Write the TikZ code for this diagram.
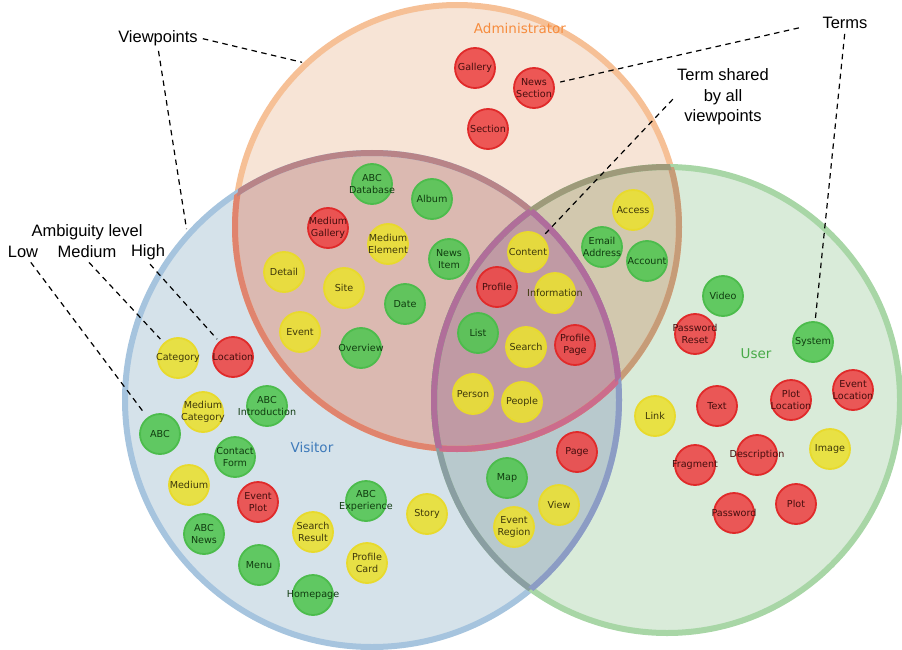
\documentclass[tikz,border=0pt]{standalone}
\usepackage{fontspec}
\setmainfont{Liberation Sans}
\newfontfamily\termfont{DejaVu Sans}
\usepackage{xcolor}
\usepackage{tikz}
% viewpoint regions
\definecolor{adminfill}{RGB}{247,228,214}
\definecolor{visitfill}{RGB}{213,226,234}
\definecolor{userfill}{RGB}{217,235,217}
\definecolor{avfill}{RGB}{219,185,177}
\definecolor{aufill}{RGB}{210,200,174}
\definecolor{vufill}{RGB}{184,201,205}
\definecolor{avufill}{RGB}{192,154,164}
% viewpoint edges
\definecolor{adminedge}{RGB}{246,192,150}
\definecolor{visitedge}{RGB}{166,196,222}
\definecolor{useredge}{RGB}{168,214,166}
\definecolor{adminInV}{RGB}{224,132,110}
\definecolor{adminInU}{RGB}{198,156,120}
\definecolor{adminInVU}{RGB}{204,108,140}
\definecolor{visitInA}{RGB}{184,132,136}
\definecolor{visitInU}{RGB}{140,156,196}
\definecolor{visitInAU}{RGB}{176,108,156}
\definecolor{userInA}{RGB}{158,154,122}
\definecolor{userInV}{RGB}{138,158,162}
\definecolor{userInAV}{RGB}{176,110,154}
% ambiguity levels
\definecolor{hifill}{RGB}{236,72,72}
\definecolor{hiline}{RGB}{224,42,42}
\definecolor{hitxt}{RGB}{70,14,14}
\definecolor{midfill}{RGB}{234,224,52}
\definecolor{midline}{RGB}{232,218,44}
\definecolor{midtxt}{RGB}{62,56,10}
\definecolor{lowfill}{RGB}{84,198,84}
\definecolor{lowline}{RGB}{76,188,76}
\definecolor{lowtxt}{RGB}{16,60,16}
\definecolor{admintxt}{RGB}{246,140,62}
\definecolor{visittxt}{RGB}{62,122,186}
\definecolor{usertxt}{RGB}{72,170,72}

\newcommand\admincirc{(457,227) circle (222pt)}
\newcommand\visitcirc{(372,400) circle (247pt)}
\newcommand\usercirc{(667,400) circle (233pt)}

\tikzset{
  term/.style={circle,minimum size=40pt,inner sep=0pt,line width=1.8pt,fill opacity=.9},
  hiamb/.style={term,draw=hiline,fill=hifill},
  midamb/.style={term,draw=midline,fill=midfill},
  lowamb/.style={term,draw=lowline,fill=lowfill},
  termtext/.style={font=\termfont\fontsize{9.6}{11.7}\selectfont,align=center,inner sep=0pt,text opacity=1},
  hitext/.style={termtext,text=hitxt},
  midtext/.style={termtext,text=midtxt},
  lowtext/.style={termtext,text=lowtxt},
  vpname/.style={font=\termfont\fontsize{13.5}{16}\selectfont},
  edge/.style={line width=6pt},
  note/.style={font=\fontsize{16.5}{20.5}\selectfont,align=center,inner sep=2pt},
  guide/.style={line width=1.2pt,dash pattern=on 5.5pt off 4.5pt,shorten <=3pt,shorten >=3pt}
}

\begin{document}
\begin{tikzpicture}[x=1pt,y=-1pt]
\useasboundingbox (0,0) rectangle (902,650);
% viewpoint fills
\fill[adminfill] \admincirc;
\fill[visitfill] \visitcirc;
\fill[userfill] \usercirc;
\begin{scope}
  \clip \visitcirc;
  \fill[vufill] \usercirc;
\end{scope}
\begin{scope}
  \clip \admincirc;
  \fill[avfill] \visitcirc;
  \fill[aufill] \usercirc;
  \clip \visitcirc;
  \fill[avufill] \usercirc;
\end{scope}
% viewpoint edges
\draw[edge,adminedge] \admincirc;
\draw[edge,visitedge] \visitcirc;
\draw[edge,useredge] \usercirc;
\begin{scope}
  \clip \visitcirc;
  \draw[edge,adminInV] \admincirc;
  \draw[edge,userInV] \usercirc;
\end{scope}
\begin{scope}
  \clip \usercirc;
  \draw[edge,adminInU] \admincirc;
  \draw[edge,visitInU] \visitcirc;
\end{scope}
\begin{scope}
  \clip \admincirc;
  \draw[edge,visitInA] \visitcirc;
  \draw[edge,userInA] \usercirc;
\end{scope}
\begin{scope}
  \clip \visitcirc;
  \clip \usercirc;
  \draw[edge,adminInVU] \admincirc;
\end{scope}
\begin{scope}
  \clip \admincirc;
  \clip \usercirc;
  \draw[edge,visitInAU] \visitcirc;
\end{scope}
\begin{scope}
  \clip \admincirc;
  \clip \visitcirc;
  \draw[edge,userInAV] \usercirc;
\end{scope}
% viewpoint names
\node[vpname,text=admintxt] (adminname) at (520,28) {Administrator};
\node[vpname,text=visittxt] (visitname) at (312,447) {Visitor};
\node[vpname,text=usertxt] (username) at (756,354) {User};

% administrator only
\node[hiamb,label={[hitext]center:Gallery}] (gallery) at (475,68) {};
\node[hiamb,label={[hitext]center:{News\\Section}}] (newssec) at (534,88) {};
\node[hiamb,label={[hitext]center:Section}] (section) at (488,129) {};
% administrator and visitor
\node[lowamb,label={[lowtext]center:{ABC\\Database}}] (abcdb) at (372,184) {};
\node[lowamb,label={[lowtext]center:Album}] (album) at (432,199) {};
\node[hiamb,label={[hitext]center:{Medium\\Gallery}}] (medgallery) at (328,228) {};
\node[midamb,label={[midtext]center:{Medium\\Element}}] (medelement) at (388,244) {};
\node[lowamb,label={[lowtext]center:{News\\Item}}] (newsitem) at (449,259) {};
\node[midamb,label={[midtext]center:Detail}] (detail) at (284,272) {};
\node[midamb,label={[midtext]center:Site}] (site) at (344,288) {};
\node[lowamb,label={[lowtext]center:Date}] (date) at (405,304) {};
\node[midamb,label={[midtext]center:Event}] (event) at (300,332) {};
\node[lowamb,label={[lowtext]center:Overview}] (overview) at (361,348) {};
% all three
\node[midamb,label={[midtext]center:Content}] (content) at (528,252) {};
\node[hiamb,label={[hitext]center:Profile}] (profile) at (497,287) {};
\node[midamb,label={[midtext]center:Information}] (information) at (555,293) {};
\node[lowamb,label={[lowtext]center:List}] (listterm) at (478,333) {};
\node[midamb,label={[midtext]center:Search}] (search) at (526,347) {};
\node[hiamb,label={[hitext]center:{Profile\\Page}}] (profilepage) at (575,345) {};
\node[midamb,label={[midtext]center:Person}] (person) at (473,394) {};
\node[midamb,label={[midtext]center:People}] (people) at (522,402) {};
% administrator and user
\node[midamb,label={[midtext]center:Access}] (access) at (633,210) {};
\node[lowamb,label={[lowtext]center:{Email\\Address}}] (email) at (602,247) {};
\node[lowamb,label={[lowtext]center:Account}] (account) at (647,261) {};
% visitor and user
\node[hiamb,label={[hitext]center:Page}] (pageterm) at (577,452) {};
\node[lowamb,label={[lowtext]center:Map}] (map) at (507,478) {};
\node[midamb,label={[midtext]center:View}] (view) at (559,505) {};
\node[midamb,label={[midtext]center:{Event\\Region}}] (eventregion) at (514,527) {};
% user only
\node[lowamb,label={[lowtext]center:Video}] (video) at (723,296) {};
\node[hiamb,label={[hitext]center:{Password\\Reset}}] (pwreset) at (695,334) {};
\node[lowamb,label={[lowtext]center:System}] (system) at (813,342) {};
\node[midamb,label={[midtext]center:Link}] (link) at (655,416) {};
\node[hiamb,label={[hitext]center:Text}] (textterm) at (717,406) {};
\node[hiamb,label={[hitext]center:{Plot\\Location}}] (plotloc) at (791,400) {};
\node[hiamb,label={[hitext]center:{Event\\Location}}] (eventloc) at (853,390) {};
\node[hiamb,label={[hitext]center:Fragment}] (fragment) at (695,465) {};
\node[hiamb,label={[hitext]center:Description}] (description) at (757,455) {};
\node[midamb,label={[midtext]center:Image}] (imageterm) at (830,449) {};
\node[hiamb,label={[hitext]center:Password}] (password) at (734,513) {};
\node[hiamb,label={[hitext]center:Plot}] (plotterm) at (796,504) {};
% visitor only
\node[midamb,label={[midtext]center:Category}] (category) at (178,358) {};
\node[hiamb,label={[hitext]center:Location}] (location) at (233,357) {};
\node[midamb,label={[midtext]center:{Medium\\Category}}] (medcategory) at (203,412) {};
\node[lowamb,label={[lowtext]center:{ABC\\Introduction}}] (abcintro) at (267,406) {};
\node[lowamb,label={[lowtext]center:ABC}] (abc) at (160,434) {};
\node[lowamb,label={[lowtext]center:{Contact\\Form}}] (contactform) at (235,457) {};
\node[midamb,label={[midtext]center:Medium}] (medium) at (189,485) {};
\node[hiamb,label={[hitext]center:{Event\\Plot}}] (eventplot) at (258,502) {};
\node[lowamb,label={[lowtext]center:{ABC\\Experience}}] (abcexp) at (366,501) {};
\node[midamb,label={[midtext]center:Story}] (story) at (427,514) {};
\node[midamb,label={[midtext]center:{Search\\Result}}] (searchresult) at (313,532) {};
\node[lowamb,label={[lowtext]center:{ABC\\News}}] (abcnews) at (204,534) {};
\node[lowamb,label={[lowtext]center:Menu}] (menu) at (259,565) {};
\node[midamb,label={[midtext]center:{Profile\\Card}}] (profilecard) at (367,563) {};
\node[lowamb,label={[lowtext]center:Homepage}] (homepage) at (313,595) {};

% annotations
\node[note] (viewpoints) at (158,38) {Viewpoints};
\node[note] (ambiguity) at (87,232) {Ambiguity level};
\node[note] (low) at (23,252) {Low};
\node[note] (medlevel) at (87,252) {Medium};
\node[note] (high) at (148,252) {High};
\node[note] (terms) at (845,23) {Terms};
\node[note] (shared) at (723,97) {Term shared\\by all\\viewpoints};
\coordinate (adminrim) at (305,63);
\coordinate (visitrim) at (187,232);
\draw[guide] (viewpoints.east) -- (adminrim);
\draw[guide] (viewpoints.south) -- (visitrim);
\draw[guide,shorten >=8pt] (low) -- (abc);
\draw[guide,shorten >=5pt] (medlevel.south) -- (category);
\draw[guide] (high.south) -- (location);
\draw[guide,shorten <=22pt,shorten >=6pt] (terms.west) -- (newssec);
\draw[guide] (terms.south) -- (system);
\draw[guide] (shared.west) -- (content);
\end{tikzpicture}
\end{document}
